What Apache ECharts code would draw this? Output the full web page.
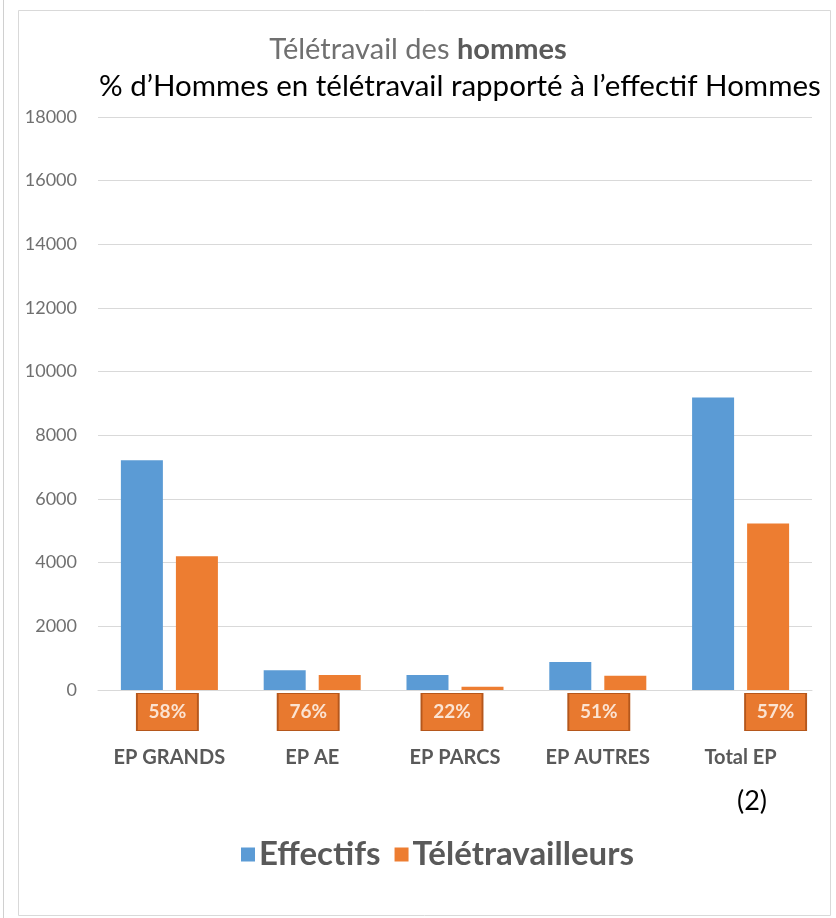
<!DOCTYPE html>
<html>
<head>
<meta charset="utf-8">
<script src="https://cdn.jsdelivr.net/npm/echarts@6/dist/echarts.min.js"></script>
<style>
  html, body { margin: 0; padding: 0; background: #fff; }
  #chart { width: 836px; height: 918px; }
</style>
</head>
<body>
<div id="chart"></div>
<script>
// données
const categories = ['EP GRANDS', 'EP AE', 'EP PARCS', 'EP AUTRES', 'Total EP'];
const effectifs = [7220, 620, 470, 880, 9190];
const teletravailleurs = [4200, 470, 100, 450, 5230];
const pourcentages = [58, 76, 22, 51, 57];
const yTicks = { min: 0, max: 18000, interval: 2000 };

// décalage horizontal des étiquettes % (placées à la main dans l'original)
const boxShift = [-2, -4, -3, 1, 35];

const chart = echarts.init(document.getElementById('chart'));

const option = {
  animation: false,
  backgroundColor: '#fff',
  title: [
    {
      text: '{a|Télétravail des }{b|hommes}',
      left: 'center',
      top: 30,
      textStyle: {
        fontWeight: 'normal',
        rich: {
          a: { fontFamily: 'Lato', fontSize: 29, fontWeight: 'normal', color: '#707070' },
          b: { fontFamily: 'Lato', fontSize: 29, fontWeight: 'bold', color: '#5a5a5a' }
        }
      }
    },
    {
      text: '% d’Hommes en télétravail rapporté à l’effectif Hommes',
      left: 94,
      top: 66,
      textStyle: { fontFamily: 'Lato', fontSize: 29.5, fontWeight: 'normal', color: '#000' }
    },
    {
      text: '(2)',
      left: 732,
      top: 783,
      textStyle: { fontFamily: 'Lato', fontSize: 27, fontWeight: 'normal', color: '#000' }
    }
  ],
  graphic: [
    {
      type: 'rect',
      shape: { x: 18.5, y: 10.5, width: 812, height: 905 },
      style: { fill: 'none', stroke: '#d9d9d9', lineWidth: 1 },
      silent: true
    },
    {
      type: 'line',
      shape: { x1: 3.5, y1: 0, x2: 3.5, y2: 918 },
      style: { stroke: '#d0d0d0', lineWidth: 1 },
      silent: true
    }
  ],
  legend: {
    data: ['Effectifs', 'Télétravailleurs'],
    left: 236,
    top: 833,
    icon: 'rect',
    itemWidth: 14,
    itemHeight: 14,
    itemGap: 14,
    textStyle: { fontFamily: 'Lato', fontSize: 33, fontWeight: 'bold', color: '#595959', padding: [0, 0, 0, -1] }
  },
  grid: { left: 98, right: 24, top: 117, bottom: 228 },
  xAxis: {
    type: 'category',
    data: categories,
    axisLine: { show: true, lineStyle: { color: '#d9d9d9', width: 1 } },
    axisTick: { show: false },
    axisLabel: {
      interval: 0,
      margin: 58,
      fontFamily: 'Lato',
      fontSize: 20,
      fontWeight: 'bold',
      color: '#595959'
    }
  },
  yAxis: {
    type: 'value',
    min: yTicks.min,
    max: yTicks.max,
    interval: yTicks.interval,
    axisLine: { show: false },
    axisTick: { show: false },
    splitLine: { lineStyle: { color: '#d9d9d9', width: 1 } },
    axisLabel: {
      margin: 21,
      formatter: v => String(v),
      fontFamily: 'Lato',
      fontSize: 18,
      color: '#707070'
    }
  },
  series: [
    {
      name: 'Effectifs',
      type: 'bar',
      data: effectifs,
      barWidth: 42,
      barGap: '31%',
      itemStyle: { color: '#5b9bd5' }
    },
    {
      name: 'Télétravailleurs',
      type: 'bar',
      data: teletravailleurs,
      barWidth: 42,
      itemStyle: { color: '#ed7d31' }
    },
    {
      name: 'pourcentage',
      type: 'scatter',
      z: 5,
      symbol: 'rect',
      symbolSize: [61, 37],
      data: pourcentages.map((p, i) => ({
        value: 0,
        symbolOffset: [boxShift[i], 22]
      })),
      itemStyle: { color: '#e8792f', borderColor: '#b5571c', borderWidth: 1.5, opacity: 1 },
      label: {
        show: true,
        position: 'inside',
        formatter: p => pourcentages[p.dataIndex] + '%',
        fontFamily: 'Lato',
        fontSize: 19,
        fontWeight: 'bold',
        color: '#fbe3d2'
      },
      emphasis: { disabled: true }
    }
  ]
};

chart.setOption(option);
</script>
</body>
</html>
